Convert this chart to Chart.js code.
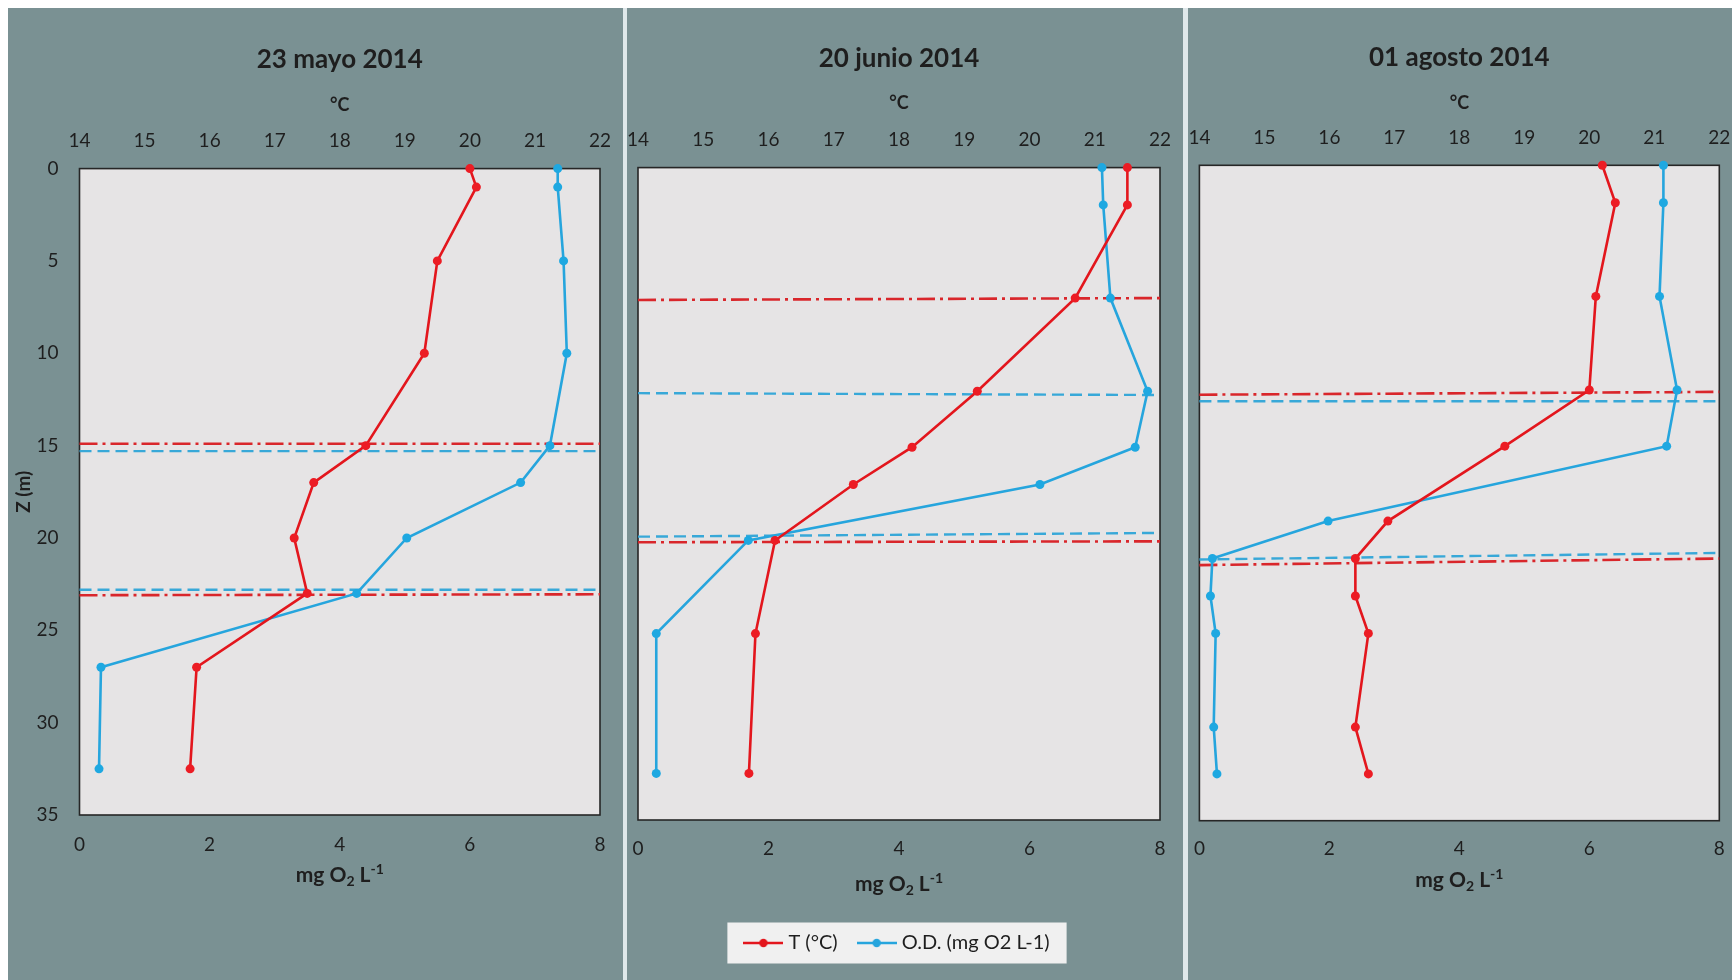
<!DOCTYPE html>
<html lang="es">
<head>
<meta charset="utf-8">
<title>Perfiles de temperatura y oxígeno disuelto 2014</title>
<script src="https://cdn.jsdelivr.net/npm/chart.js@4.4.1/dist/chart.umd.min.js"></script>
<style>
  html, body { margin:0; padding:0; width:1732px; height:980px; background:#ffffff; overflow:hidden; }
  #fondo { position:absolute; left:8px; top:8px; width:1724px; height:972px; background:#7a9193; }
  .separador { position:absolute; top:8px; height:972px; background:#dfe8ea; }
  canvas { position:absolute; }
</style>
</head>
<body>
<div id="fondo"></div>
<div class="separador" style="left:623px;width:4px;"></div>
<div class="separador" style="left:1183px;width:5px;"></div>
<canvas id="mayo" width="614" height="972" style="left:8px;top:8px;"></canvas>
<canvas id="junio" width="555" height="972" style="left:627px;top:8px;"></canvas>
<canvas id="agosto" width="544" height="972" style="left:1188px;top:8px;"></canvas>
<script>
// ---------- data ----------
const chartTitles = ['23 mayo 2014', '20 junio 2014', '01 agosto 2014'];
const seriesNames = ['T (°C)', 'O.D. (mg O2 L-1)'];
const tempAxisTitle = '°C';
const depthAxisTitle = 'Z (m)';
const oxyAxisTitle = ['mg O', '2', ' L', '-1'];   // normal, subscript, normal, superscript
const tempRange = [14, 22];
const oxyRange = [0, 8];
const depthRange = [0, 35];

// 23 mayo 2014
const depthMay = [0, 1, 5, 10, 15, 17, 20, 23, 27, 32.5];
const tempMay  = [20.0, 20.1, 19.5, 19.3, 18.4, 17.6, 17.3, 17.5, 15.8, 15.7];
const oxyMay   = [7.35, 7.35, 7.44, 7.49, 7.23, 6.78, 5.03, 4.26, 0.33, 0.30];
// 20 junio 2014
const depthJun = [0, 2, 7, 12, 15, 17, 20, 25, 32.5];
const tempJun  = [21.5, 21.5, 20.7, 19.2, 18.2, 17.3, 16.1, 15.8, 15.7];
const oxyJun   = [7.11, 7.13, 7.24, 7.81, 7.62, 6.16, 1.69, 0.28, 0.28];
// 01 agosto 2014
const depthAug = [0, 2, 7, 12, 15, 19, 21, 23, 25, 30, 32.5];
const tempAug  = [20.2, 20.4, 20.1, 20.0, 18.7, 16.9, 16.4, 16.4, 16.6, 16.4, 16.6];
const oxyAug   = [7.14, 7.14, 7.08, 7.35, 7.19, 1.98, 0.20, 0.17, 0.25, 0.22, 0.27];

// thermocline limits (red) and oxycline limits (blue): depth at left and right edge
const thermoMay    = [[14.9, 14.9], [23.1, 23.05]];
const oxyclineMay  = [[15.3, 15.3], [22.8, 22.8]];
const thermoJun    = [[7.1, 7.0], [20.1, 20.05]];
const oxyclineJun  = [[12.1, 12.2], [19.8, 19.6]];
const thermoAug    = [[12.25, 12.1], [21.35, 21.0]];
const oxyclineAug  = [[12.6, 12.6], [21.05, 20.7]];

// ---------- styling ----------
const RED = '#e3161d', RED_PT = '#ec1c24', RED_DASH = '#d9262b';
const BLUE = '#26a5dd', BLUE_PT = '#1ea8e1', BLUE_DASH = '#38a8d8';
const TEXT = '#1e1e1e';
const FONT = 'Lato, "Open Sans", sans-serif';

Chart.defaults.font.family = FONT;
Chart.defaults.color = TEXT;

// legend marker: short line with a dot in the middle
function makeMarker(color) {
  const c = document.createElement('canvas');
  c.width = 40; c.height = 12;
  const g = c.getContext('2d');
  g.strokeStyle = color; g.lineWidth = 2.5;
  g.beginPath(); g.moveTo(0, 6); g.lineTo(40, 6); g.stroke();
  g.fillStyle = color;
  g.beginPath(); g.arc(20, 6, 4.2, 0, Math.PI * 2); g.fill();
  return c;
}
const legendMarkers = [makeMarker(RED), makeMarker(BLUE)];

// plot background, frame and legend box
const plotFrame = {
  id: 'plotFrame',
  beforeDraw(chart) {
    const {ctx, chartArea: a} = chart;
    ctx.save();
    ctx.fillStyle = '#e6e4e5';
    ctx.fillRect(a.left, a.top, a.right - a.left, a.bottom - a.top);
    ctx.strokeStyle = '#262626';
    ctx.lineWidth = 1.6;
    ctx.strokeRect(a.left, a.top, a.right - a.left, a.bottom - a.top);
    const lg = chart.legend;
    if (chart.options.plugins.legend.display && lg && lg.legendHitBoxes && lg.legendHitBoxes.length) {
      const hb = lg.legendHitBoxes;
      const l = hb[0].left - 21;
      const r = hb[hb.length - 1].left + hb[hb.length - 1].width + 17;
      const cy = hb[0].top + hb[0].height / 2;
      ctx.fillStyle = '#f0f0f0';
      ctx.fillRect(l, cy - 20.5, r - l, 41);
    }
    ctx.restore();
  }
};

// oxygen axis title with subscript and superscript
const oxyUnitLabel = {
  id: 'oxyUnitLabel',
  afterDraw(chart, args, opts) {
    const {ctx, chartArea: a} = chart;
    const big = 'bold 21px ' + FONT;
    const small = 'bold 14px ' + FONT;
    const parts = [
      {t: oxyAxisTitle[0], f: big, dy: 0},
      {t: oxyAxisTitle[1], f: small, dy: 4},
      {t: oxyAxisTitle[2], f: big, dy: 0},
      {t: oxyAxisTitle[3], f: small, dy: -8}
    ];
    ctx.save();
    ctx.fillStyle = TEXT;
    ctx.textBaseline = 'alphabetic';
    ctx.textAlign = 'left';
    let w = 0;
    parts.forEach(p => { ctx.font = p.f; p.w = ctx.measureText(p.t).width; w += p.w; });
    let x = (a.left + a.right) / 2 - w / 2;
    parts.forEach(p => { ctx.font = p.f; ctx.fillText(p.t, x, opts.baseline + p.dy); x += p.w; });
    ctx.restore();
  }
};

function toPoints(xs, depth) {
  return depth.map((d, i) => ({x: xs[i], y: d}));
}
function limitLine(pair) {
  return [{x: tempRange[0], y: pair[0]}, {x: tempRange[1], y: pair[1]}];
}

function buildChart(id, idx, depth, temp, oxy, thermo, oxycline, L) {
  const datasets = [
    {
      label: seriesNames[0], data: toPoints(temp, depth), xAxisID: 'xT', yAxisID: 'y',
      borderColor: RED, backgroundColor: RED_PT, pointBackgroundColor: RED_PT, pointBorderColor: RED_PT,
      borderWidth: 2.6, pointRadius: 4.5, pointBorderWidth: 0, clip: false
    },
    {
      label: seriesNames[1], data: toPoints(oxy, depth), xAxisID: 'xO', yAxisID: 'y',
      borderColor: BLUE, backgroundColor: BLUE_PT, pointBackgroundColor: BLUE_PT, pointBorderColor: BLUE_PT,
      borderWidth: 2.6, pointRadius: 4.5, pointBorderWidth: 0, clip: false
    }
  ];
  thermo.forEach(p => datasets.push({
    label: 'termoclina', data: limitLine(p), xAxisID: 'xT', yAxisID: 'y',
    borderColor: RED_DASH, borderWidth: 2.6, borderDash: [18, 5, 3, 5], pointRadius: 0, clip: false
  }));
  oxycline.forEach(p => datasets.push({
    label: 'oxiclina', data: limitLine(p), xAxisID: 'xT', yAxisID: 'y',
    borderColor: BLUE_DASH, borderWidth: 2.4, borderDash: [12, 6], pointRadius: 0, clip: false
  }));

  return new Chart(document.getElementById(id), {
    type: 'line',
    data: {datasets},
    plugins: [plotFrame, oxyUnitLabel],
    options: {
      responsive: false,
      animation: false,
      devicePixelRatio: 1,
      events: [],
      layout: {padding: L.pad},
      elements: {line: {tension: 0}},
      plugins: {
        tooltip: {enabled: false},
        title: {
          display: true, text: chartTitles[idx], color: TEXT, fullSize: false,
          font: {size: 26, weight: 'bold'}, padding: {top: L.titleTop, bottom: 0}
        },
        legend: {
          display: !!L.legend, position: 'bottom',
          labels: {
            usePointStyle: true, pointStyleWidth: 30, padding: 24, color: TEXT,
            font: {size: 20},
            generateLabels(chart) {
              return chart.data.datasets.slice(0, 2).map((ds, i) => ({
                text: ds.label, pointStyle: legendMarkers[i], fillStyle: ds.borderColor,
                strokeStyle: ds.borderColor, lineWidth: 0, hidden: false, datasetIndex: i, fontColor: TEXT
              }));
            }
          }
        },
        oxyUnitLabel: {baseline: L.oxyBaseline}
      },
      scales: {
        xT: {
          type: 'linear', position: 'top', min: tempRange[0], max: tempRange[1],
          grid: {display: false, drawTicks: false}, border: {display: false},
          ticks: {stepSize: 1, padding: L.topTickPad, font: {size: 19}, color: TEXT, maxRotation: 0, autoSkip: false},
          title: {display: true, text: tempAxisTitle, color: TEXT, font: {size: 18, weight: 'bold'}, padding: {top: L.degTop, bottom: 0}},
          afterFit(s) { s.height = L.topAxisH; s.paddingLeft = 0; s.paddingRight = 0; }
        },
        xO: {
          type: 'linear', position: 'bottom', min: oxyRange[0], max: oxyRange[1],
          grid: {display: false, drawTicks: false}, border: {display: false},
          ticks: {stepSize: 2, padding: L.botTickPad, font: {size: 19}, color: TEXT, maxRotation: 0, autoSkip: false},
          afterFit(s) { s.height = L.botAxisH; s.paddingLeft = 0; s.paddingRight = 0; }
        },
        y: {
          type: 'linear', position: 'left', reverse: true, min: depthRange[0], max: depthRange[1],
          display: L.showY,
          grid: {display: false, drawTicks: false}, border: {display: false},
          ticks: {stepSize: 5, padding: 21, font: {size: 19}, color: TEXT},
          title: {display: L.showY, text: depthAxisTitle, color: TEXT, font: {size: 19, weight: 'bold'}, padding: {top: 4.6, bottom: 0}},
          afterFit(s) { s.width = L.yAxisW; s.paddingTop = 0; s.paddingBottom = 0; }
        }
      }
    }
  });
}

buildChart('mayo', 0, depthMay, tempMay, oxyMay, thermoMay, oxyclineMay, {
  pad: {left: 0, right: 22, top: 0, bottom: 0}, titleTop: 36.4, degTop: 18.6,
  topAxisH: 93, botAxisH: 165, topTickPad: 16, botTickPad: 18.5,
  yAxisW: 71.5, showY: true, legend: false, oxyBaseline: 874
});
buildChart('junio', 1, depthJun, tempJun, oxyJun, thermoJun, oxyclineJun, {
  pad: {left: 11, right: 22, top: 0, bottom: 17}, titleTop: 35.4, degTop: 17.6,
  topAxisH: 93, botAxisH: 89, topTickPad: 16, botTickPad: 17.5,
  yAxisW: 0, showY: false, legend: true, oxyBaseline: 883
});
buildChart('agosto', 2, depthAug, tempAug, oxyAug, thermoAug, oxyclineAug, {
  pad: {left: 11.4, right: 12.7, top: 0, bottom: 0}, titleTop: 34.4, degTop: 19.1,
  topAxisH: 91.7, botAxisH: 159.3, topTickPad: 16.5, botTickPad: 16.5,
  yAxisW: 0, showY: false, legend: false, oxyBaseline: 879
});
</script>
</body>
</html>
